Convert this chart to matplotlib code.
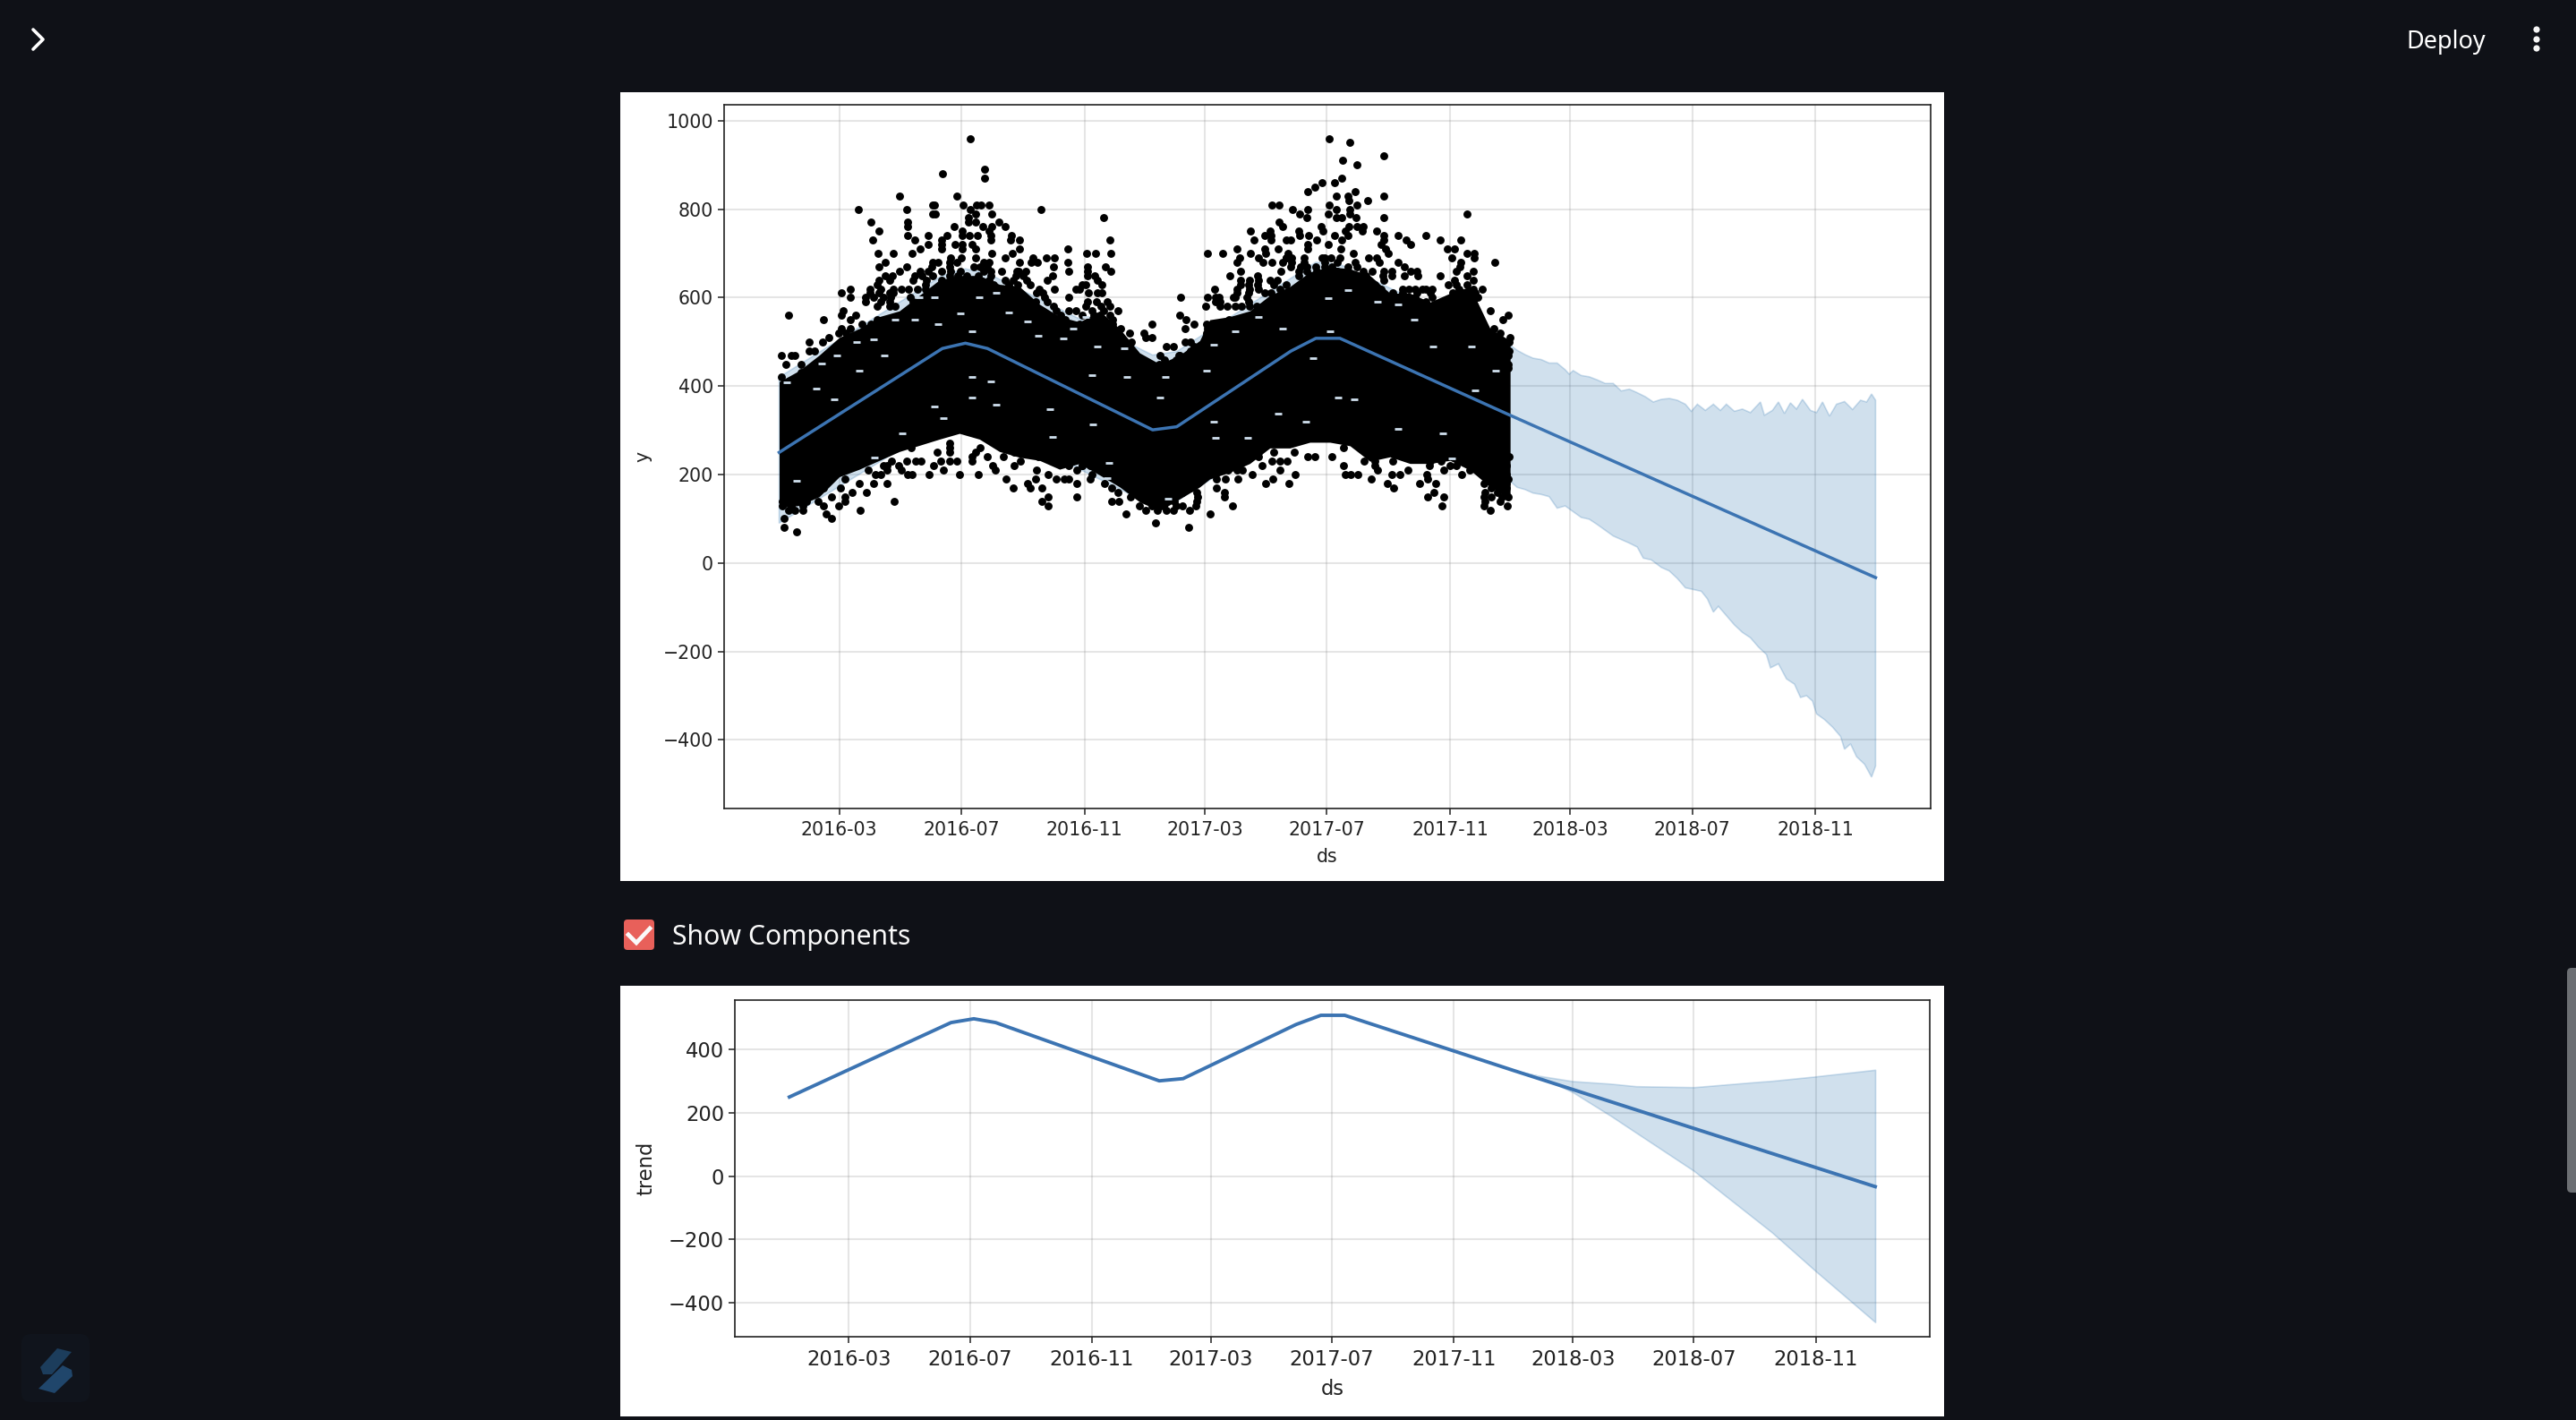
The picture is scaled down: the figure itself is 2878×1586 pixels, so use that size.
import numpy as np
import matplotlib
matplotlib.use("Agg")
import matplotlib.pyplot as plt
import matplotlib.dates as mdates
from matplotlib.patches import Rectangle, FancyBboxPatch, Polygon, Circle

W, H = 2878, 1586
PAGE = "#0f1117"
LINE = "#3c74b2"
BAND = "#1565a8"

# all days are counted from 2016-01-01
tick_dates = ["2016-03", "2016-07", "2016-11", "2017-03", "2017-07", "2017-11", "2018-03", "2018-07", "2018-11"]
forecast_yticks = [-400, -200, 0, 200, 400, 600, 800, 1000]
trend_yticks = [-400, -200, 0, 200, 400]

trend_day = [0, 163, 186, 208, 373, 397, 511, 536, 560, 730, 1095]
trend_value = [250, 485, 497, 485, 301, 308, 479, 508, 508, 334, -33]

# forecast band, hidden by the points up to the end of 2017
band_hist_day = [0, 163, 186, 208, 373, 397, 536, 560]
band_hist_upper = [420, 650, 665, 655, 470, 478, 680, 675]
band_hist_lower = [90, 315, 325, 315, 130, 140, 340, 335]

band_up_day = [729, 737, 745, 753, 761, 769, 777, 785, 789, 793, 801, 809, 817, 825, 833, 841, 849, 857, 865, 873,
               881, 889, 897, 905, 911, 917, 925, 933, 940, 946, 954, 962, 970, 980, 984, 992, 998, 1004, 1010, 1016,
               1022, 1030, 1036, 1042, 1049, 1056, 1064, 1072, 1080, 1086, 1091, 1095]
band_up_value = [494, 481, 471, 463, 460, 452, 452, 437, 427, 435, 424, 421, 414, 406, 406, 389, 393, 385, 376, 364,
                 370, 372, 368, 359, 343, 359, 345, 359, 345, 359, 343, 348, 340, 364, 334, 345, 364, 338, 362, 348,
                 370, 345, 340, 364, 332, 359, 365, 347, 368, 364, 382, 368]

band_low_day = [729, 737, 745, 753, 761, 769, 777, 785, 793, 801, 809, 817, 825, 833, 841, 849, 857, 863, 871, 881,
                889, 897, 905, 913, 921, 927, 933, 938, 946, 954, 962, 970, 978, 986, 990, 998, 1006, 1014, 1020, 1026,
                1032, 1036, 1044, 1052, 1060, 1064, 1070, 1076, 1084, 1091, 1095]
band_low_value = [187, 171, 166, 158, 155, 150, 124, 129, 116, 103, 99, 87, 74, 61, 53, 45, 36, 11, 7, -10,
                  -18, -35, -56, -60, -64, -81, -111, -98, -119, -140, -157, -169, -190, -207, -237, -228, -262, -274, -304, -300,
                  -312, -341, -354, -371, -392, -421, -409, -438, -455, -484, -459]

# trend uncertainty
trend_band_day = [730, 754, 790, 828, 854, 912, 974, 991, 1035, 1095]
trend_band_upper = [334, 318, 300, 292, 284, 281, 297, 301, 315, 336]
trend_band_lower = [334, 318, 265, 191, 137, 17, -136, -178, -300, -461]

# the daily points overlap into a solid mass: its outline is read here and
# only the points that can be told apart are listed one by one below
mass_day = [0, 20, 40, 60, 80, 100, 120, 140, 160, 180, 200, 220, 240, 260, 280, 300, 320, 340, 360,
            380, 400, 420, 430, 450, 470, 490, 510, 530, 550, 570, 590, 610, 630, 650, 670, 690, 710, 730]
mass_top = [410, 435, 470, 510, 530, 557, 570, 605, 640, 650, 650, 630, 625, 585, 557, 545, 570, 530, 475,
            450, 470, 503, 550, 557, 570, 605, 625, 658, 670, 665, 650, 610, 610, 590, 610, 625, 530, 503]
mass_bottom = [125, 130, 150, 195, 212, 232, 252, 266, 280, 293, 280, 252, 239, 232, 212, 225, 199, 172, 138,
               118, 145, 172, 190, 205, 225, 260, 260, 273, 273, 265, 230, 240, 225, 225, 232, 210, 172, 145]

upper_2016_day = [191, 205, 205, 163, 120, 177, 79, 127, 261, 324, 153, 155, 153, 156, 184, 197, 202, 210, 191, 212,
                  196, 189, 196, 189, 128, 128, 92, 100, 93, 175, 203, 212, 219, 226, 210, 128, 135, 149, 149, 141,
                  133, 114, 99, 106, 100, 127, 168, 162, 162, 162, 183, 183, 190, 198, 211, 211, 232, 231, 240, 240,
                  233, 226, 212, 176, 183, 183, 193, 196, 196, 182, 171, 253, 267, 275, 258, 252, 240, 274, 273, 268,
                  275, 288, 288, 289, 307, 316, 331, 330, 308, 326, 331, 308, 315, 322, 318, 303, 300, 296, 289, 289,
                  296, 303, 338, 309, 322, 328, 350, 352, 364, 222, 246, 237, 71, 62, 71, 64, 62, 76, 71, 44,
                  9, 30, 43, 50, 30, 35, 2, 12, 16, 7, 22, 22, 2]
upper_2016_value = [960, 890, 870, 880, 830, 830, 800, 800, 800, 780, 810, 810, 790, 790, 810, 810, 810, 810, 800, 790,
                    790, 780, 770, 770, 770, 760, 770, 750, 730, 760, 760, 760, 770, 760, 750, 740, 730, 740, 720, 710,
                    700, 700, 700, 680, 670, 670, 740, 730, 720, 710, 750, 740, 740, 740, 740, 730, 740, 730, 730, 710,
                    700, 690, 700, 720, 720, 710, 720, 710, 690, 690, 690, 690, 690, 690, 680, 680, 680, 670, 650, 640,
                    620, 710, 680, 660, 700, 700, 700, 730, 670, 670, 660, 660, 650, 630, 640, 630, 620, 620, 600, 570,
                    570, 560, 570, 610, 610, 590, 520, 500, 520, 660, 660, 660, 620, 610, 600, 570, 560, 560, 550, 550,
                    560, 500, 500, 510, 480, 480, 470, 470, 470, 450, 450, 430, 420]

upper_2017_day = [549, 570, 604, 563, 577, 562, 542, 555, 535, 528, 575, 556, 568, 569, 604, 588, 492, 499, 549, 577,
                  513, 528, 556, 570, 520, 548, 570, 687, 527, 556, 562, 576, 604, 499, 503, 541, 569, 577, 583, 471,
                  490, 519, 543, 565, 582, 597, 485, 491, 520, 529, 555, 568, 604, 618, 646, 474, 491, 506, 511, 537,
                  562, 604, 626, 660, 681, 528, 548, 601, 631, 457, 485, 498, 528, 561, 606, 667, 674, 428, 443, 471,
                  486, 508, 573, 608, 687, 694, 460, 479, 506, 545, 589, 597, 672, 694, 457, 483, 492, 599, 618, 681,
                  715, 511, 624, 680, 461, 501, 604, 612, 631, 637, 676, 693, 450, 478, 624, 638, 660, 687, 461, 470,
                  479, 490, 497, 674, 435, 457, 470, 646, 652, 702, 428, 439, 401, 454, 426, 710, 728, 400, 723, 406,
                  414, 372, 405, 714, 720, 372, 366, 708, 730, 708, 387, 394, 405, 411, 380, 400, 722,
                  440, 447, 455, 462, 470, 477, 485, 492]
upper_2017_value = [960, 950, 920, 910, 900, 870, 860, 860, 850, 840, 840, 830, 830, 820, 830, 820, 810, 810, 810, 810,
                    800, 800, 800, 800, 790, 790, 790, 790, 780, 780, 780, 780, 780, 770, 760, 760, 760, 760, 760, 750,
                    750, 750, 750, 750, 750, 750, 740, 740, 740, 740, 740, 740, 740, 740, 740, 730, 730, 730, 730, 730,
                    730, 730, 730, 730, 730, 720, 720, 720, 720, 710, 710, 710, 710, 710, 710, 710, 710, 700, 700, 700,
                    700, 700, 700, 700, 700, 700, 690, 690, 690, 690, 690, 690, 690, 690, 680, 680, 680, 680, 680, 680,
                    680, 670, 670, 670, 660, 660, 660, 660, 660, 660, 660, 660, 650, 650, 650, 650, 650, 650, 640, 640,
                    640, 640, 640, 640, 620, 620, 620, 620, 620, 620, 600, 600, 600, 600, 580, 570, 560, 560, 550, 550,
                    540, 540, 530, 530, 520, 510, 510, 520, 510, 510, 490, 490, 500, 500, 470, 470, 490,
                    580, 580, 580, 580, 580, 580, 580, 580]

lower_2016_day = [17, 5, 5, 52, 47, 44, 81, 115, 66, 59, 52, 39, 66, 73, 80, 87, 94, 108, 61, 66,
                  96, 101, 108, 122, 128, 133, 150, 180, 199, 164, 154, 161, 170, 177, 193, 127, 136, 142, 112, 213,
                  216, 227, 234, 248, 251, 256, 262, 269, 262, 269, 297, 297, 289, 277, 285, 269, 257, 297, 311, 312,
                  325, 332, 338, 332, 339, 346, 360, 351, 235, 241, 235, 243, 224, 208, 303, 311, 170, 193]
lower_2016_value = [70, 80, 100, 100, 110, 130, 120, 140, 140, 130, 150, 140, 150, 160, 180, 160, 180, 180, 170, 190,
                    200, 200, 210, 210, 200, 200, 200, 200, 200, 210, 220, 230, 230, 230, 230, 230, 230, 230, 230, 220,
                    210, 190, 170, 180, 170, 190, 170, 150, 140, 130, 150, 180, 190, 190, 190, 200, 210, 210, 190, 200,
                    180, 170, 160, 140, 140, 110, 130, 150, 220, 230, 250, 260, 240, 240, 220, 220, 250, 240]

lower_2017_day = [376, 409, 430, 453, 445, 445, 437, 395, 403, 410, 416, 418, 458, 486, 493, 509, 515, 500, 492, 500,
                  507, 482, 472, 460, 457, 463, 514, 528, 535, 552, 564, 565, 571, 578, 584, 591, 607, 614, 612, 620,
                  628, 640, 656, 648, 654, 664, 662, 682, 664, 676, 704, 704, 710, 727, 728, 704, 722, 571, 564, 598,
                  647, 648]
lower_2017_value = [90, 80, 110, 130, 150, 160, 170, 140, 130, 120, 130, 150, 190, 180, 190, 180, 200, 210, 230, 230,
                    230, 220, 200, 230, 210, 210, 250, 240, 240, 240, 220, 200, 200, 200, 230, 190, 180, 170, 200, 200,
                    210, 180, 180, 150, 160, 150, 130, 200, 210, 220, 180, 130, 120, 130, 150, 150, 150, 290, 260, 210,
                    200, 190]

# sales come in steps of ten, so the crowded edges of the mass are read row by row
row_value = [690, 680, 670, 660, 650, 640, 630, 620, 610, 600, 590, 580, 570, 560, 550, 540, 530, 520, 500, 490, 480,
             470, 460, 450, 440,
             270, 260, 250, 240, 230, 220, 210, 200, 190, 180, 170, 160, 150, 140, 130, 120]
row_days = [
    [506, 512, 524, 542, 551, 560],
    [153, 159, 170, 177, 204, 210, 503, 512, 524, 545, 557, 575],
    [152, 170, 194, 201, 208, 521, 527, 536, 545, 552, 568, 577],
    [120, 141, 149, 162, 171, 181, 204, 211, 239, 519, 527, 537, 545, 557, 568, 583, 592],
    [106, 113, 135, 143, 153, 170, 178, 187, 199, 211, 236, 244, 308, 519, 536, 548, 560, 574, 586, 603, 612],
    [100, 110, 134, 147, 162, 175, 183, 196, 210, 226, 234, 247, 528, 542, 554, 563, 580, 589, 604, 693],
    [98, 146, 164, 172, 181, 190, 205, 214, 229, 238, 251, 306, 461, 469, 478, 494, 506, 521, 533, 545, 568, 595, 668, 676, 687],
    [91, 101, 114, 122, 129, 138, 146, 167, 181, 217, 232, 260, 479, 500, 515, 527, 601, 623, 629, 635, 642, 679, 693],
    [91, 100, 110, 114, 149, 205, 229, 257, 263, 318, 457, 469, 485, 491, 613, 623, 637, 650, 673, 683, 695],
    [86, 94, 104, 111, 131, 158, 184, 210, 229, 265, 436, 455, 467, 497, 509, 613, 635, 652, 677, 686, 698],
    [86, 101, 110, 134, 167, 256, 268, 308, 317, 436, 440, 469, 509, 533, 554, 610, 646, 679, 693],
    [98, 110, 116, 140, 274, 306, 321, 330, 646, 659, 667, 675],
    [277, 312, 324],
    [281, 314, 330],
    [98, 286, 333, 449, 455, 685, 690],
    [83, 92, 300, 333, 427, 438, 693],
    [62, 71, 341, 428, 441, 699],
    [59, 67, 80, 427, 702],
    [344, 426, 711, 729],
    [414],
    [411, 714, 729],
    [399, 728],
    [385, 396],
    [379, 388, 714, 728],
    [384, 728],
    [170],
    [132, 170, 201],
    [158, 196, 479, 494, 598, 622, 643, 696],
    [259, 271, 283, 455, 479, 595, 628, 664, 702, 729],
    [595, 613, 650, 661, 693, 708],
    [104, 108, 119, 289, 303, 332, 452, 595, 649, 670, 702, 726],
    [89, 448, 690, 702, 723],
    [705, 726],
    [437, 446, 708, 728],
    [713, 726],
    [44, 411, 711, 726],
    [403, 417, 705, 717],
    [711],
    [3, 18, 27, 375, 417, 705, 720],
    [3, 12, 24, 372, 384, 396],
    [9, 16, 24, 366, 378, 387, 394],
]

# openings in the mass where the band shows through
gap_day = [116, 159, 140, 155, 200, 217, 94, 58, 105, 259, 284, 318, 193, 135, 248, 181, 345, 42, 77, 294, 306, 229,
           193, 211, 164, 155, 193, 123, 273, 329, 328, 95, 55, 17, 8, 312, 347, 37, 80, 270, 313, 217,
           455, 479, 568, 548, 634, 503, 550, 691, 434, 618, 653, 533, 598,
           574, 386, 427, 468, 436, 618, 663, 672, 388, 558, 695, 498, 526, 434, 380, 716]
gap_value = [550, 540, 600, 600, 600, 610, 505, 470, 470, 513, 507, 490, 523, 550, 547, 564, 486, 452, 500, 530, 557, 567,
             421, 411, 327, 354, 374, 293, 286, 226, 192, 239, 370, 185, 408, 425, 421, 394, 434, 347, 313, 357,
             523, 557, 618, 598, 550, 530, 523, 490, 493, 584, 490, 463, 591,
             371, 421, 435, 283, 283, 303, 294, 236, 145, 374, 391, 337, 320, 319, 374, 435]


def to_dates(days):
    return np.datetime64("2016-01-01") + np.asarray(days).astype("timedelta64[D]")


def px_axes(fig, left, top, right, bottom):
    return fig.add_axes([left / W, 1 - bottom / H, (right - left) / W, (bottom - top) / H])


def style_axes(ax, yticks, ylim, ylabel, fontsize, xpad, ypad):
    ax.set_facecolor("white")
    ax.grid(True, which="major", color="gray", linestyle="-", linewidth=1.5, alpha=0.2)
    ax.set_axisbelow(True)
    ticks = [np.datetime64(t + "-01") for t in tick_dates]
    ax.set_xticks(mdates.date2num(ticks))
    ax.xaxis.set_major_formatter(mdates.DateFormatter("%Y-%m"))
    ax.set_xlim(mdates.date2num(np.datetime64("2015-11-07")), mdates.date2num(np.datetime64("2019-02-24")))
    ax.set_yticks(yticks)
    ax.set_ylim(*ylim)
    ax.tick_params(labelsize=fontsize, length=5, width=1.1, colors="#222222")
    ax.tick_params(axis="x", pad=5)
    ax.set_xlabel("ds", fontsize=fontsize, color="#222222", labelpad=xpad)
    ax.set_ylabel(ylabel, fontsize=fontsize, color="#222222", labelpad=ypad)
    for s in ax.spines.values():
        s.set_linewidth(1.2)
        s.set_color("#222222")


fig = plt.figure(figsize=(W / 100, H / 100), dpi=100, facecolor=PAGE)

# page furniture, in reference pixels
bg = fig.add_axes([0, 0, 1, 1])
bg.set_xlim(0, W)
bg.set_ylim(H, 0)
bg.axis("off")
bg.add_patch(Rectangle((693, 103), 1479, 881, color="white", lw=0))
bg.add_patch(Rectangle((693, 1101), 1479, 481, color="white", lw=0))
bg.plot([37, 48, 37], [33, 44, 55], color="white", lw=2.6, solid_capstyle="round")
bg.text(2733, 47, "Deploy", color="white", fontsize=19.5, family="Noto Sans", ha="center", va="center")
for yy in (33, 44, 54):
    bg.add_patch(Circle((2834, yy), 3.6, color="#f5f5f5", lw=0))
bg.add_patch(FancyBboxPatch((700, 1030), 28, 28, boxstyle="round,pad=3,rounding_size=4", color="#e8605a", lw=0))
bg.plot([702, 711, 726], [1044, 1053, 1037], color="#fafafa", lw=3.4, solid_joinstyle="miter")
bg.text(751, 1047, "Show Components", color="#fafafa", fontsize=21.7, family="Noto Sans", ha="left", va="center")
bg.add_patch(FancyBboxPatch((2871, 1084), 12, 245, boxstyle="round,pad=3,rounding_size=5", color="#6c6f73", lw=0))
bg.add_patch(FancyBboxPatch((24, 1490), 76, 76, boxstyle="round,pad=0,rounding_size=10", color="#10141c", lw=0))
bg.add_patch(Polygon([[64, 1506], [80, 1510], [58, 1535], [48, 1535], [45, 1527]], color="#1c3d5c", lw=0))
bg.add_patch(Polygon([[70, 1525], [80, 1530], [81, 1537], [61, 1556], [43, 1551]], color="#20466b", lw=0))

# forecast
ax1 = px_axes(fig, 809, 117, 2157, 903)
style_axes(ax1, forecast_yticks, (-555, 1036), "y", 14.8, 7, 9)
band_day = band_hist_day + band_up_day
band_x_low = band_hist_day + band_low_day
ax1.fill_between(to_dates(mass_day), mass_bottom, mass_top, color="black", lw=0, zorder=3)
for d, v in [(upper_2016_day, upper_2016_value), (upper_2017_day, upper_2017_value),
             (lower_2016_day, lower_2016_value), (lower_2017_day, lower_2017_value)]:
    ax1.plot(to_dates(d), v, "o", color="black", ms=6.4, mew=0, zorder=3)
for value, days in zip(row_value, row_days):
    ax1.plot(to_dates(days), [value] * len(days), "o", color="black", ms=6.4, mew=0, zorder=3)
ax1.plot(to_dates(gap_day), gap_value, "_", color="#d0e0ee", ms=5.5, mew=2, zorder=4)
ax1.plot(to_dates(trend_day), trend_value, color=LINE, lw=2.5, zorder=5)
ax1.fill(np.concatenate([to_dates(band_day), to_dates(band_x_low)[::-1]]),
         np.concatenate([band_hist_upper + band_up_value, (band_hist_lower + band_low_value)[::-1]]),
         facecolor=BAND, edgecolor=BAND, alpha=0.2, lw=1.2, zorder=2)

# trend component
ax2 = px_axes(fig, 821, 1117, 2156, 1493)
style_axes(ax2, trend_yticks, (-507, 556), "trend", 16.3, 7, 10)
ax2.plot(to_dates(trend_day), trend_value, color=LINE, lw=2.8, zorder=5)
ax2.fill_between(to_dates(trend_band_day), trend_band_lower, trend_band_upper, color=BAND, alpha=0.2, lw=1.2, zorder=2)

fig.savefig("out.png", dpi=100, facecolor=PAGE)
